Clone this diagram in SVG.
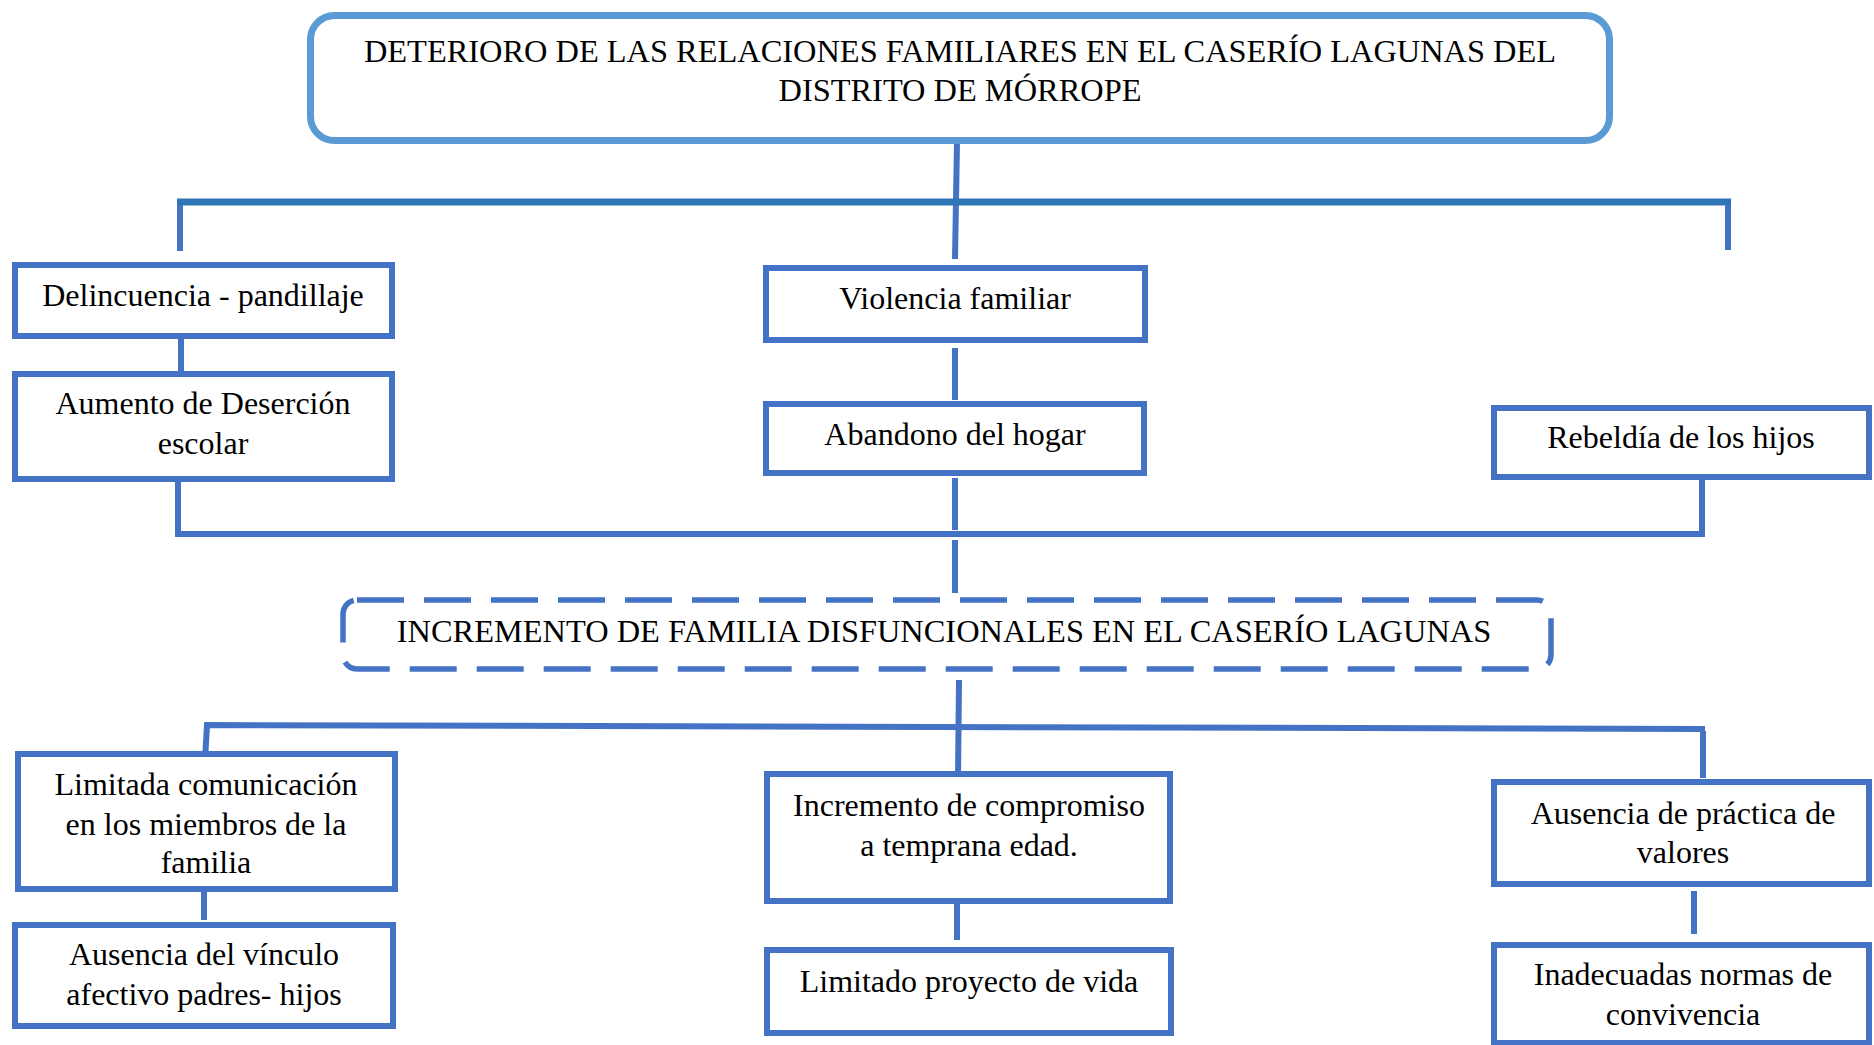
<svg xmlns="http://www.w3.org/2000/svg" width="1874" height="1045" viewBox="0 0 1874 1045">
<style>
.box{fill:#fff;stroke:#4472C4;stroke-width:6}
.t{font-family:"Liberation Serif","Times New Roman",serif;font-size:32px;fill:#000;text-anchor:middle}
.tc{font-size:32.4px}
.c{fill:none;stroke:#4472C4;stroke-width:6}
.cd{fill:none;stroke:#2E75B6;stroke-width:7}
</style>
<rect width="1874" height="1045" fill="#fff"/>
<g id="connectors">
<line class="c" x1="957" y1="142" x2="955" y2="259"/>
<line class="c" x1="180" y1="251" x2="180" y2="202"/>
<line class="c" x1="1728" y1="202" x2="1728" y2="250"/>
<line class="cd" x1="177" y1="202" x2="1731" y2="202"/>
<line class="c" x1="181" y1="339" x2="181" y2="381"/>
<line class="c" x1="955" y1="348" x2="955" y2="400"/>
<line class="c" x1="955" y1="478" x2="955" y2="530"/>
<polyline class="c" points="178,482 178,534 1702,534 1702,480"/>
<line class="c" x1="955" y1="540" x2="955" y2="593"/>
<line class="c" x1="959" y1="680" x2="958" y2="778"/>
<polyline class="c" points="205,760 207,725 1705,729"/>
<line class="c" x1="1703" y1="731" x2="1703" y2="778"/>
<line class="c" x1="204" y1="877" x2="204" y2="920"/>
<line class="c" x1="957" y1="897" x2="957" y2="940"/>
<line class="c" x1="1694" y1="891" x2="1694" y2="934"/>
</g>
<g id="n-titulo">
<rect x="310.5" y="15.5" width="1299" height="125" rx="24" fill="none" stroke="#5B9BD5" stroke-width="7"/>
<text class="t tc" x="960" y="62">DETERIORO DE LAS RELACIONES FAMILIARES EN EL CASERÍO LAGUNAS DEL</text>
<text class="t tc" x="960" y="101">DISTRITO DE MÓRROPE</text>
</g>
<g id="n-delincuencia">
<rect class="box" x="15" y="265" width="377" height="71"/>
<text class="t" x="203" y="306">Delincuencia - pandillaje</text>
</g>
<g id="n-desercion">
<rect class="box" x="15" y="374" width="377" height="105"/>
<text class="t" x="203" y="414">Aumento de Deserción</text>
<text class="t" x="203" y="454">escolar</text>
</g>
<g id="n-violencia">
<rect class="box" x="766" y="268" width="379" height="72"/>
<text class="t" x="955" y="309">Violencia familiar</text>
</g>
<g id="n-abandono">
<rect class="box" x="766" y="404" width="378" height="69"/>
<text class="t" x="955" y="445">Abandono del hogar</text>
</g>
<g id="n-rebeldia">
<rect class="box" x="1494" y="408" width="375" height="69"/>
<text class="t" x="1681" y="448">Rebeldía de los hijos</text>
</g>
<g id="n-incremento">
<rect x="343" y="600" width="1208" height="69" rx="14" fill="none" stroke="#4472C4" stroke-width="5.5" stroke-dasharray="47 20"/>
<text class="t tc" x="944" y="642">INCREMENTO DE FAMILIA DISFUNCIONALES EN EL CASERÍO LAGUNAS</text>
</g>
<g id="n-comunicacion">
<rect class="box" x="18" y="754" width="377" height="135"/>
<text class="t" x="206" y="795">Limitada comunicación</text>
<text class="t" x="206" y="835">en los miembros de la</text>
<text class="t" x="206" y="873">familia</text>
</g>
<g id="n-vinculo">
<rect class="box" x="15" y="925" width="378" height="101"/>
<text class="t" x="204" y="965">Ausencia del vínculo</text>
<text class="t" x="204" y="1005">afectivo padres- hijos</text>
</g>
<g id="n-compromiso">
<rect class="box" x="767" y="774" width="403" height="127"/>
<text class="t" x="969" y="816">Incremento de compromiso</text>
<text class="t" x="969" y="856">a temprana edad.</text>
</g>
<g id="n-proyecto">
<rect class="box" x="767" y="950" width="404" height="83"/>
<text class="t" x="969" y="992">Limitado proyecto de vida</text>
</g>
<g id="n-valores">
<rect class="box" x="1494" y="782" width="375" height="102"/>
<text class="t" x="1683" y="824">Ausencia de práctica de</text>
<text class="t" x="1683" y="863">valores</text>
</g>
<g id="n-normas">
<rect class="box" x="1494" y="945" width="375" height="98"/>
<text class="t" x="1683" y="985">Inadecuadas normas de</text>
<text class="t" x="1683" y="1025">convivencia</text>
</g>
</svg>
